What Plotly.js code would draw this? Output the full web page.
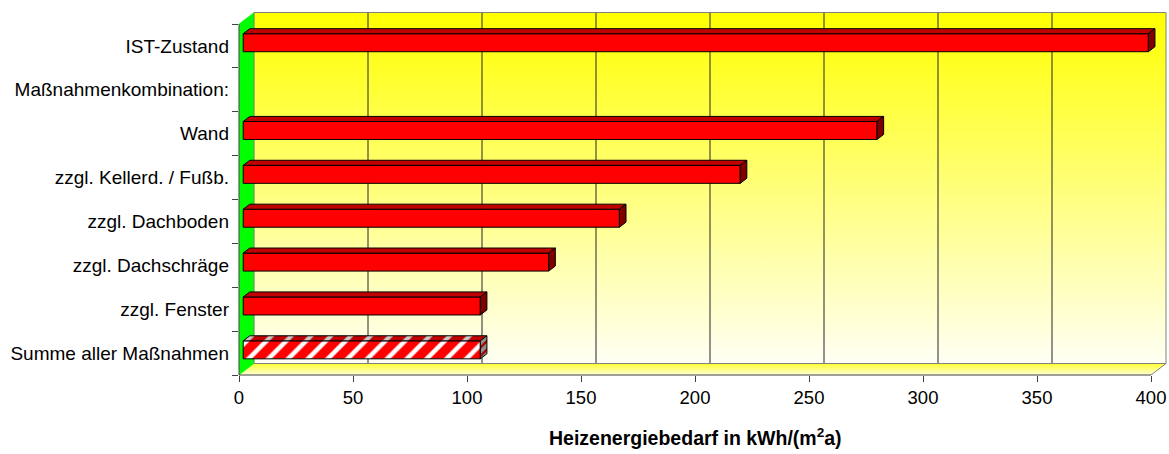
<!DOCTYPE html>
<html>
<head>
<meta charset="utf-8">
<script src="https://cdn.plot.ly/plotly-3.0.1.min.js"></script>
<style>html,body{margin:0;padding:0;background:#fff;}#chart{width:1169px;height:454px;}</style>
</head>
<body>
<div id="chart"></div>
<script>
// ---- data ----
const categories = ['IST-Zustand', 'Maßnahmenkombination:', 'Wand', 'zzgl. Kellerd. / Fußb.',
  'zzgl. Dachboden', 'zzgl. Dachschräge', 'zzgl. Fenster', 'Summe aller Maßnahmen'];
const values = [397, null, 278, 218, 165, 134, 104, 104];
const striped = [false, false, false, false, false, false, false, true];
const xTickVals = [0, 50, 100, 150, 200, 250, 300, 350, 400];
const xTitle = 'Heizenergiebedarf in kWh/(m<sup>2</sup>a)';

// ---- geometry (layout, pixels) ----
const W = 1169, H = 454;
const mL = 239, mR = 2, mT = 12, mB = 79;
const plotW = W - mL - mR, plotH = H - mT - mB;
const xMaxVal = 400;
const pxPerUnit = 912 / xMaxVal;          // front axis 0..400 spans 912 px
const nCat = categories.length;
const catPx = 351 / nCat;                  // front category axis height
const xMax = plotW / pxPerUnit;
const yBot = nCat - 0.5;
const yTop = yBot - plotH / catPx;
const DX = 15, DY = 11.5;                  // depth of the 3D box (px)
const dxD = DX / pxPerUnit, dyD = DY / catPx;
const f1 = 0.28, f2 = 0.72;                // bar depth position (fraction of box depth)
const barW = 18 / catPx;

const FONT = 'Liberation Sans, Arial, sans-serif';
const wallTop = -0.5 - dyD, wallBot = yBot - dyD;

function svgURI(svg) { return 'data:image/svg+xml;charset=utf-8,' + encodeURIComponent(svg); }
const backSVG = '<svg xmlns="http://www.w3.org/2000/svg" width="100" height="100" viewBox="0 0 100 100" preserveAspectRatio="none">' +
  '<defs><linearGradient id="g" x1="0" y1="0" x2="0" y2="1">' +
  '<stop offset="0" stop-color="#ffff00"/><stop offset="1" stop-color="#fffff4"/></linearGradient></defs>' +
  '<rect x="0" y="0" width="100" height="100" fill="url(#g)"/></svg>';
const floorW = xMaxVal + dxD;
const fa = dxD / floorW * 100, fb = xMaxVal / floorW * 100;
const floorSVG = '<svg xmlns="http://www.w3.org/2000/svg" width="100" height="100" viewBox="0 0 100 100" preserveAspectRatio="none">' +
  '<defs><linearGradient id="f" x1="0" y1="0" x2="0" y2="1">' +
  '<stop offset="0" stop-color="#ffff30"/><stop offset="1" stop-color="#ffffd8"/></linearGradient></defs>' +
  '<polygon points="0,100 ' + fb + ',100 100,0 ' + fa + ',0" fill="url(#f)"/></svg>';

const traces = [];

// bars: front faces
const base0 = f1 * dxD;
const barY = [], barX = [], patShape = [];
categories.forEach((c, i) => {
  barY.push(i - f1 * dyD);
  barX.push(values[i]);
  patShape.push(striped[i] ? '/' : '');
});
traces.push({
  type: 'bar', orientation: 'h', hoverinfo: 'skip', showlegend: false,
  x: barX, y: barY, base: base0, width: barW,
  marker: {
    color: '#ff0000',
    line: {color: '#000000', width: 1},
    pattern: {shape: patShape, fgcolor: '#ffffff', bgcolor: '#ff0000', size: 14, solidity: 0.32}
  }
});
// 3D top and side faces
const bdx = (f2 - f1) * dxD, bdy = (f2 - f1) * dyD;
categories.forEach((c, i) => {
  const v = values[i];
  if (v === null) return;
  const yc = i - f1 * dyD;
  const yt = yc - barW / 2, yb = yc + barW / 2;
  const x0 = base0, x1 = base0 + v;
  const top = {
    type: 'scatter', mode: 'lines', hoverinfo: 'skip', showlegend: false,
    x: [x0, x1, x1 + bdx, x0 + bdx, x0], y: [yt, yt, yt - bdy, yt - bdy, yt],
    fill: 'toself', fillcolor: '#c00000', line: {color: '#000000', width: 1}
  };
  const side = {
    type: 'scatter', mode: 'lines', hoverinfo: 'skip', showlegend: false,
    x: [x1, x1 + bdx, x1 + bdx, x1, x1], y: [yt, yt - bdy, yb - bdy, yb, yt],
    fill: 'toself', fillcolor: '#800000', line: {color: '#000000', width: 1}
  };
  if (striped[i]) {
    top.fillpattern = {shape: '/', fgcolor: '#c8c8c8', bgcolor: '#c00000', size: 14, solidity: 0.3};
    side.fillcolor = '#808080';
    side.fillpattern = {shape: '/', fgcolor: '#a00000', bgcolor: '#909090', size: 6, solidity: 0.4};
  }
  traces.push(top, side);
});

const paperX = v => v / xMax;
const paperY = y => (yBot - y) / (yBot - yTop);

const shapes = [];
// left (green) wall
shapes.push({type: 'path', xref: 'x', yref: 'y', layer: 'between',
  path: `M0,-0.5 L${dxD},${wallTop} L${dxD},${wallBot} L0,${yBot} Z`,
  fillcolor: '#00ff00', line: {color: '#00ff00', width: 0.5}});
// gridlines on back wall
xTickVals.forEach(v => {
  if (v > 0 && v < xMaxVal) shapes.push({type: 'line', xref: 'x', yref: 'y', layer: 'between',
    x0: v + dxD, x1: v + dxD, y0: wallTop, y1: wallBot, line: {color: '#262626', width: 1}});
});
// back wall border
shapes.push({type: 'rect', xref: 'x', yref: 'y', layer: 'between',
  x0: dxD, x1: xMaxVal + dxD, y0: wallTop, y1: wallBot, line: {color: '#808080', width: 1}});
// floor right edge
shapes.push({type: 'line', xref: 'x', yref: 'y', layer: 'between',
  x0: xMaxVal, y0: yBot, x1: xMaxVal + dxD, y1: wallBot, line: {color: '#808080', width: 1}});
// front axes
shapes.push({type: 'line', xref: 'paper', yref: 'paper', x0: 0, x1: paperX(xMaxVal), y0: 0, y1: 0,
  line: {color: '#404040', width: 1}});
shapes.push({type: 'line', xref: 'paper', yref: 'paper', x0: 0, x1: 0, y0: 0, y1: paperY(-0.5),
  line: {color: '#404040', width: 1}});

const layout = {
  width: W, height: H,
  margin: {l: mL, r: mR, t: mT, b: mB, pad: 0},
  paper_bgcolor: '#ffffff', plot_bgcolor: 'rgba(0,0,0,0)',
  font: {family: FONT, size: 18, color: '#000000'},
  showlegend: false, hovermode: false,
  xaxis: {
    type: 'linear', range: [0, xMax], fixedrange: true,
    tickmode: 'array', tickvals: xTickVals, ticktext: xTickVals.map(String),
    ticks: 'outside', ticklen: 6, tickcolor: '#404040', tickwidth: 1,
    showgrid: false, zeroline: false, showline: false,
    tickfont: {family: FONT, size: 18.5, color: '#000000'}
  },
  yaxis: {
    type: 'linear', range: [yBot, yTop], fixedrange: true,
    tickmode: 'array', tickvals: categories.map((c, i) => i), ticktext: categories,
    ticks: '', showgrid: false, zeroline: false, showline: false,
    ticklabelstandoff: 9,
    tickfont: {family: FONT, size: 19, color: '#000000'},
    minor: {tickmode: 'array', tickvals: categories.map((c, i) => i - 0.5).concat([yBot]),
      ticks: 'outside', ticklen: 6, tickcolor: '#404040', tickwidth: 1, showgrid: false}
  },
  images: [
    {source: svgURI(backSVG), xref: 'x', yref: 'y', x: dxD, y: wallTop,
      sizex: xMaxVal, sizey: wallBot - wallTop, sizing: 'stretch', xanchor: 'left', yanchor: 'top', layer: 'below'},
    {source: svgURI(floorSVG), xref: 'x', yref: 'y', x: 0, y: wallBot,
      sizex: floorW, sizey: yBot - wallBot, sizing: 'stretch', xanchor: 'left', yanchor: 'top', layer: 'below'}
  ],
  shapes: shapes,
  annotations: [{
    text: '<b>' + xTitle + '</b>', xref: 'x', yref: 'paper',
    x: xMaxVal / 2, y: -(437 - (H - mB)) / plotH, xanchor: 'center', yanchor: 'middle',
    showarrow: false, font: {family: FONT, size: 19.5, color: '#000000'}
  }]
};

Plotly.newPlot('chart', traces, layout, {displayModeBar: false, staticPlot: true});
</script>
</body>
</html>
